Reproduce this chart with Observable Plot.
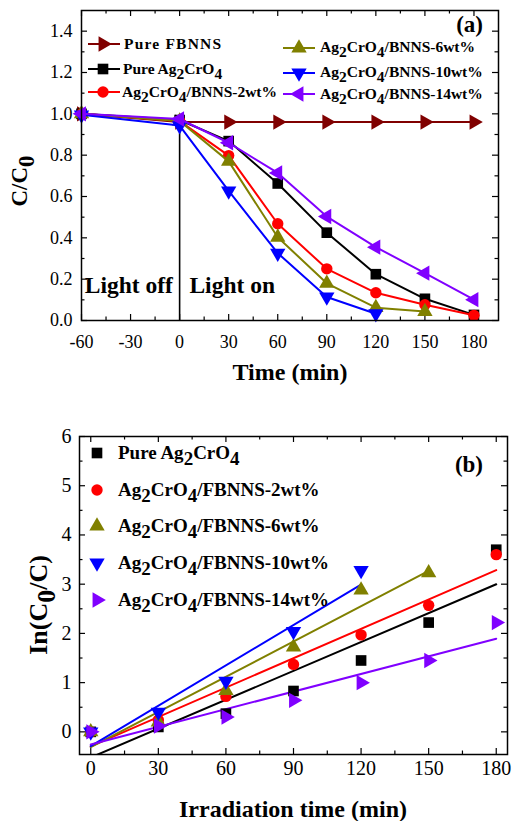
<!DOCTYPE html>
<html><head><meta charset="utf-8">
<script src="https://cdn.jsdelivr.net/npm/d3@7"></script>
<script src="https://cdn.jsdelivr.net/npm/@observablehq/plot@0.6"></script>
<style>
body{margin:0;background:#fff;}
#wrap{position:relative;width:512px;height:821px;background:#fff;}
#wrap > figure, #wrap > svg{margin:0;}
.pan{position:absolute;left:0;}
#overlay{position:absolute;left:0;top:0;pointer-events:none;}
</style></head>
<body><div id="wrap"></div>
<script>
// ---------- Panel (a) data ----------
const timeA = [-60, 0, 30, 60, 90, 120, 150, 180];
const namesA = ["Pure FBNNS", "Pure Ag_2CrO_4", "Ag_2CrO_4/BNNS-2wt%", "Ag_2CrO_4/BNNS-6wt%", "Ag_2CrO_4/BNNS-10wt%", "Ag_2CrO_4/BNNS-14wt%"];
const fbnnsA = [1.0, 0.96, 0.96, 0.96, 0.96, 0.96, 0.96, 0.96];
const pureA  = [1.0, 0.97, 0.868, 0.663, 0.425, 0.224, 0.105, 0.027];
const wt2A   = [1.0, 0.965, 0.798, 0.468, 0.25, 0.134, 0.076, 0.025];
const wt6A   = [1.0, 0.965, 0.77, 0.403, 0.18, 0.062, 0.043, null];
const wt10A  = [0.995, 0.943, 0.627, 0.326, 0.114, 0.033, null, null];
const wt14A  = [1.0, 0.975, 0.86, 0.714, 0.503, 0.355, 0.229, 0.101];
const valuesA = [fbnnsA, pureA, wt2A, wt6A, wt10A, wt14A];
const xTicksA = [-60, -30, 0, 30, 60, 90, 120, 150, 180];
const xMinorA = [-45, -15, 15, 45, 75, 105, 135, 165];
const yTicksA = [0, 0.2, 0.4, 0.6, 0.8, 1.0, 1.2, 1.4];
const yMinorA = [0.1, 0.3, 0.5, 0.7, 0.9, 1.1, 1.3];
const notesA = [{x: -58, y: 0.17, text: "Light off"}, {x: 6, y: 0.17, text: "Light on"}];
const lightSwitch = [{x: 0, y1: 0, y2: 0.98}];

// ---------- Panel (b) data ----------
const timeB = [0, 30, 60, 90, 120, 150, 180];
const namesB = ["Pure Ag_2CrO_4", "Ag_2CrO_4/FBNNS-2wt%", "Ag_2CrO_4/FBNNS-6wt%", "Ag_2CrO_4/FBNNS-10wt%", "Ag_2CrO_4/FBNNS-14wt%"];
const pureB = [0, 0.1, 0.37, 0.83, 1.45, 2.22, 3.7];
const wt2B  = [0, 0.24, 0.72, 1.37, 1.97, 2.57, 3.6];
const wt6B  = [0, 0.2, 0.84, 1.72, 2.88, 3.23, null];
const wt10B = [0, 0.4, 1.03, 2.04, 3.28, null, null];
const wt14B = [0, 0.12, 0.3, 0.64, 1.0, 1.45, 2.22];
const valuesB = [pureB, wt2B, wt6B, wt10B, wt14B];
const xTicksB = [0, 30, 60, 90, 120, 150, 180];
const xMinorB = [15, 45, 75, 105, 135, 165];
const yTicksB = [0, 1, 2, 3, 4, 5, 6];
const yMinorB = [0.5, 1.5, 2.5, 3.5, 4.5, 5.5];

// ---------- styles ----------
const styleA = [
  {color: "#800000", symbol: "triangle", rotate: 90, r: 5.7},
  {color: "#000000", symbol: "square", rotate: 0, r: 6},
  {color: "#ff0000", symbol: "circle", rotate: 0, r: 5.7},
  {color: "#808000", symbol: "triangle", rotate: 0, r: 5.7},
  {color: "#0000ff", symbol: "triangle", rotate: 180, r: 5.7},
  {color: "#8000ff", symbol: "triangle", rotate: -90, r: 5.7}
];
const styleB = styleA.slice(1).map((s, i) => i === 4 ? {...s, rotate: 90} : s);

const FONT = "'Liberation Serif','Times New Roman',serif";
const wrap = document.getElementById("wrap");

function tickMarks(xMaj, xMin, yMaj, yMin, pw, ph) {
  const L = 6, S = 3.5, sw = 1.2;
  return [
    Plot.tickX(xMaj, {x: d => d, insetTop: ph - L, strokeWidth: sw}),
    Plot.tickX(xMaj, {x: d => d, insetBottom: ph - L, strokeWidth: sw}),
    Plot.tickX(xMin, {x: d => d, insetTop: ph - S, strokeWidth: sw}),
    Plot.tickX(xMin, {x: d => d, insetBottom: ph - S, strokeWidth: sw}),
    Plot.tickY(yMaj, {y: d => d, insetRight: pw - L, strokeWidth: sw}),
    Plot.tickY(yMaj, {y: d => d, insetLeft: pw - L, strokeWidth: sw}),
    Plot.tickY(yMin, {y: d => d, insetRight: pw - S, strokeWidth: sw}),
    Plot.tickY(yMin, {y: d => d, insetLeft: pw - S, strokeWidth: sw})
  ];
}

// ---------- Panel (a) ----------
const mA = {top: 10, bottom: 80, left: 81, right: 14, h: 400};
const pwA = 512 - mA.left - mA.right, phA = mA.h - mA.top - mA.bottom;
const seriesMarksA = [];
valuesA.forEach((vals, i) => {
  const s = styleA[i];
  const data = timeA.map((t, j) => ({t, v: vals[j]})).filter(d => d.v != null);
  seriesMarksA.push(Plot.line(data, {x: "t", y: "v", stroke: s.color, strokeWidth: 2}));
  seriesMarksA.push(Plot.dot(data, {x: "t", y: "v", fill: s.color, stroke: "none", symbol: s.symbol, rotate: s.rotate, r: s.r}));
});
const plotA = Plot.plot({
  width: 512, height: mA.h,
  marginTop: mA.top, marginBottom: mA.bottom, marginLeft: mA.left, marginRight: mA.right,
  x: {domain: [-60, 195]},
  y: {domain: [0, 1.5]},
  style: {fontFamily: FONT, fontSize: "18px", color: "black", background: "white"},
  marks: [
    ...tickMarks(xTicksA, xMinorA, yTicksA, yMinorA, pwA, phA),
    Plot.axisX({ticks: xTicksA, tickSize: 0, tickPadding: 15, tickFormat: d => String(d), label: null, fontSize: 18}),
    Plot.axisY({ticks: yTicksA, tickSize: 0, tickPadding: 9, tickFormat: d3.format(".1f"), label: null, fontSize: 18}),
    Plot.ruleX(lightSwitch, {x: "x", y1: "y1", y2: "y2", strokeWidth: 1.6}),
    Plot.text(notesA, {x: "x", y: "y", text: "text", textAnchor: "start", fontSize: 23.5, fontWeight: "bold"}),
    ...seriesMarksA,
    Plot.frame({stroke: "black", strokeWidth: 1.5})
  ]
});
plotA.classList.add("pan");
plotA.style.top = "0px";
wrap.appendChild(plotA);

// ---------- Panel (b) ----------
const mB = {top: 36, bottom: 67, left: 79, right: 5, h: 421};
const pwB = 512 - mB.left - mB.right, phB = mB.h - mB.top - mB.bottom;
const seriesMarksB = [];
valuesB.forEach((vals, i) => {
  const s = styleB[i];
  const data = timeB.map((t, j) => ({t, v: vals[j]})).filter(d => d.v != null);
  seriesMarksB.push(Plot.linearRegressionY(data, {x: "t", y: "v", stroke: s.color, strokeWidth: 2, ci: 0, clip: true}));
});
valuesB.forEach((vals, i) => {
  const s = styleB[i];
  const data = timeB.map((t, j) => ({t, v: vals[j]})).filter(d => d.v != null);
  seriesMarksB.push(Plot.dot(data, {x: "t", y: "v", fill: s.color, stroke: "none", symbol: s.symbol, rotate: s.rotate, r: s.r}));
});
const plotB = Plot.plot({
  width: 512, height: mB.h,
  marginTop: mB.top, marginBottom: mB.bottom, marginLeft: mB.left, marginRight: mB.right,
  x: {domain: [-5, 185]},
  y: {domain: [-0.46, 6]},
  style: {fontFamily: FONT, fontSize: "20px", color: "black", background: "white"},
  marks: [
    ...tickMarks(xTicksB, xMinorB, yTicksB, yMinorB, pwB, phB),
    Plot.axisX({ticks: xTicksB, tickSize: 0, tickPadding: 6, tickFormat: d => String(d), label: null, fontSize: 20}),
    Plot.axisY({ticks: yTicksB, tickSize: 0, tickPadding: 8, tickFormat: d => String(d), label: null, fontSize: 20}),
    ...seriesMarksB,
    Plot.frame({stroke: "black", strokeWidth: 1.5})
  ]
});
plotB.classList.add("pan");
plotB.style.top = "400px";
wrap.appendChild(plotB);

// ---------- Overlay: titles, legends ----------
const ov = d3.select(wrap).append("svg").attr("id", "overlay")
  .attr("width", 512).attr("height", 821)
  .attr("font-family", FONT).attr("font-weight", "bold").attr("fill", "black");

function rich(sel, str) {
  const parts = str.split(/_(\d)/);
  let shifted = false;
  parts.forEach((p, i) => {
    if (p === "") return;
    const ts = sel.append("tspan").text(p);
    if (i % 2 === 1) { ts.attr("dy", "0.3em"); shifted = true; }
    else if (shifted) { ts.attr("dy", "-0.3em"); shifted = false; }
  });
  return sel;
}
function label(x, y, str, size, anchor, rot) {
  const t = ov.append("text").attr("font-size", size).attr("text-anchor", anchor || "start");
  if (rot) t.attr("transform", `translate(${x},${y}) rotate(${rot})`);
  else t.attr("x", x).attr("y", y);
  return rich(t, str);
}
function symbolPath(s) {
  const types = {circle: d3.symbolCircle, square: d3.symbolSquare, triangle: d3.symbolTriangle};
  return d3.symbol(types[s.symbol], s.r * s.r * Math.PI)();
}
function marker(x, y, s) {
  ov.append("path").attr("d", symbolPath(s)).attr("fill", s.color)
    .attr("transform", `translate(${x},${y}) rotate(${s.rotate})`);
}

// panel (a) legend
const legA = [
  {mx: 103, my: 44, lx1: 88, lx2: 120, tx: 124, ty: 49},
  {mx: 103, my: 69, lx1: 88, lx2: 120, tx: 123, ty: 74},
  {mx: 103, my: 92, lx1: 88, lx2: 120, tx: 122, ty: 97},
  {mx: 299, my: 48, lx1: 283, lx2: 315, tx: 320, ty: 52},
  {mx: 299, my: 73, lx1: 283, lx2: 315, tx: 320, ty: 77},
  {mx: 299, my: 94, lx1: 283, lx2: 315, tx: 320, ty: 99}
];
legA.forEach((p, i) => {
  const s = styleA[i];
  ov.append("line").attr("x1", p.lx1).attr("x2", p.lx2).attr("y1", p.my).attr("y2", p.my)
    .attr("stroke", s.color).attr("stroke-width", 2);
  marker(p.mx, p.my, s);
  const t = label(p.tx, p.ty, namesA[i], 15.5);
  if (i === 0) t.attr("letter-spacing", 1.2);
});
// panel (b) legend
const legB = [453, 490, 526, 563, 600];
legB.forEach((y, i) => {
  marker(97, y, styleB[i]);
  label(118, y + 6, namesB[i], 19);
});

label(483, 32, "(a)", 23, "end");
label(483, 472, "(b)", 23, "end");
label(290, 380, "Time (min)", 24, "middle");
label(293, 817, "Irradiation time (min)", 24, "middle");
label(27, 181, "C/C_0", 23, "middle", -90);
label(47, 605, "In(C_0/C)", 26, "middle", -90);
</script>
</body></html>
